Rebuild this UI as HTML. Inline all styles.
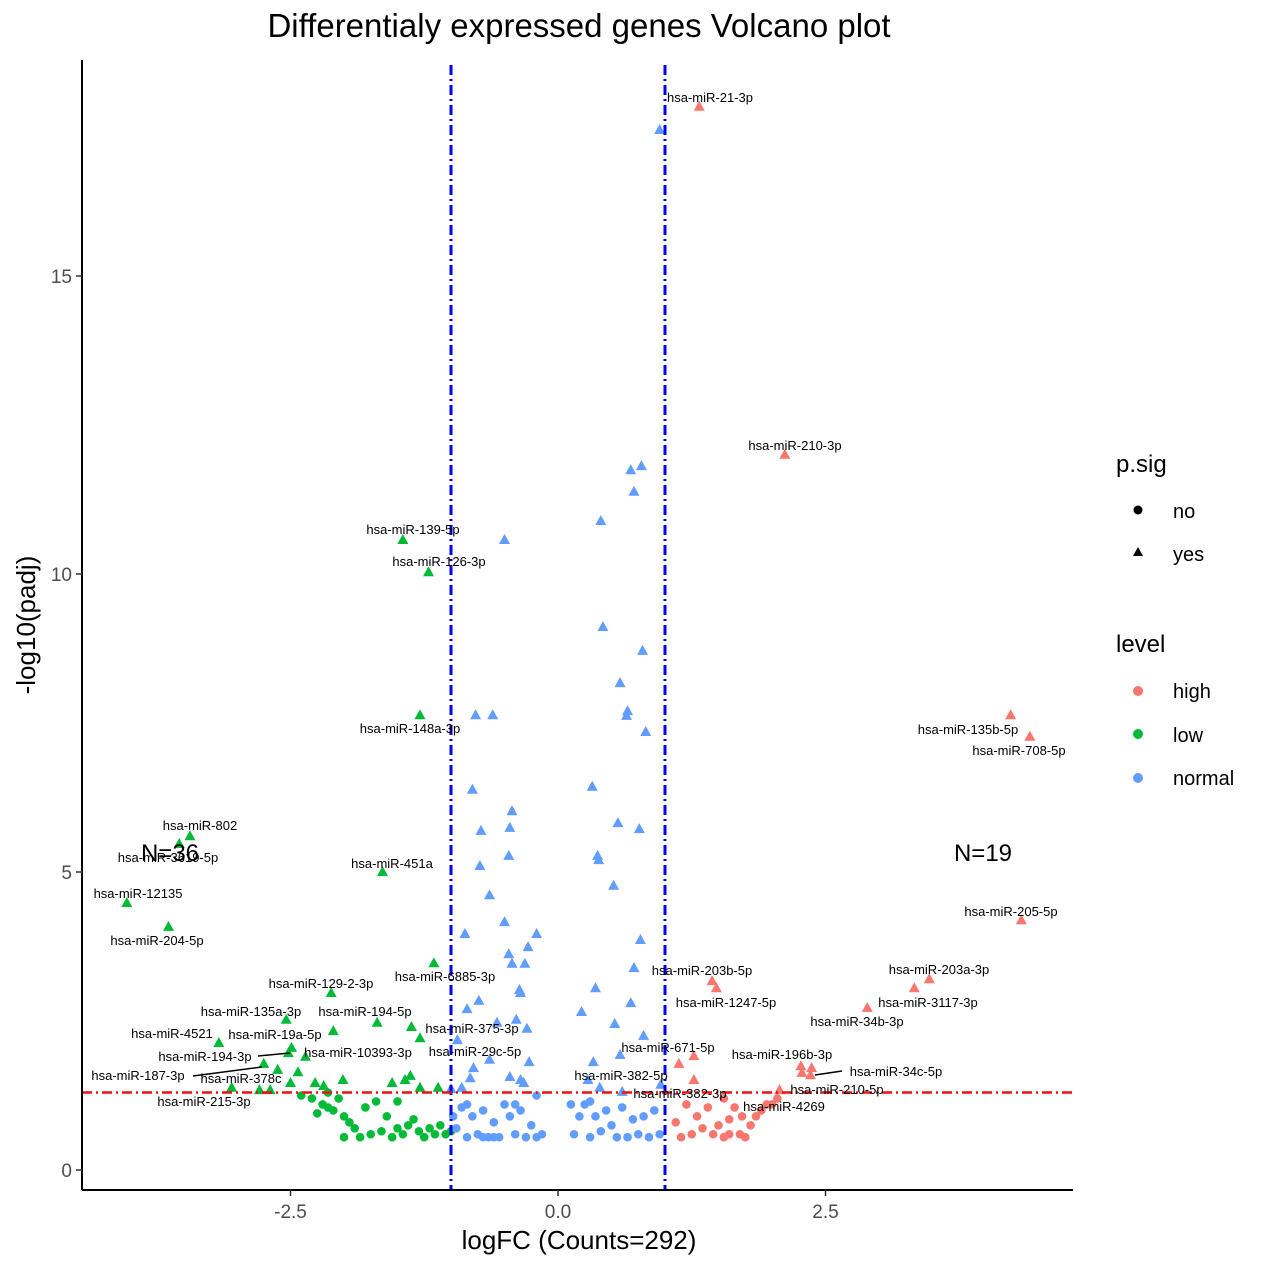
<!DOCTYPE html>
<html><head><meta charset="utf-8"><style>
body{margin:0;background:#fff;}
svg text{font-family:"Liberation Sans",Arial,sans-serif;}
</style></head><body>
<svg id="chart" width="1269" height="1269" viewBox="0 0 1269 1269" xmlns="http://www.w3.org/2000/svg">
<rect width="1269" height="1269" fill="#fff"/>
<text x="579" y="37" font-size="33" text-anchor="middle" fill="#000">Differentialy expressed genes Volcano plot</text>
<g id="marks"></g>
<g id="axes"></g>
<g id="labels" font-size="13" fill="#000">
<text x="710" y="102" text-anchor="middle">hsa-miR-21-3p</text>
<text x="795" y="450" text-anchor="middle">hsa-miR-210-3p</text>
<text x="413" y="534" text-anchor="middle">hsa-miR-139-5p</text>
<text x="439" y="566" text-anchor="middle">hsa-miR-126-3p</text>
<text x="410" y="733" text-anchor="middle">hsa-miR-148a-3p</text>
<text x="968" y="734" text-anchor="middle">hsa-miR-135b-5p</text>
<text x="1019" y="755" text-anchor="middle">hsa-miR-708-5p</text>
<text x="200" y="830" text-anchor="middle">hsa-miR-802</text>
<text x="168" y="862" text-anchor="middle">hsa-miR-3619-5p</text>
<text x="392" y="868" text-anchor="middle">hsa-miR-451a</text>
<text x="138" y="898" text-anchor="middle">hsa-miR-12135</text>
<text x="1011" y="916" text-anchor="middle">hsa-miR-205-5p</text>
<text x="157" y="945" text-anchor="middle">hsa-miR-204-5p</text>
<text x="939" y="974" text-anchor="middle">hsa-miR-203a-3p</text>
<text x="702" y="975" text-anchor="middle">hsa-miR-203b-5p</text>
<text x="445" y="981" text-anchor="middle">hsa-miR-6885-3p</text>
<text x="321" y="988" text-anchor="middle">hsa-miR-129-2-3p</text>
<text x="928" y="1007" text-anchor="middle">hsa-miR-3117-3p</text>
<text x="726" y="1007" text-anchor="middle">hsa-miR-1247-5p</text>
<text x="251" y="1016" text-anchor="middle">hsa-miR-135a-3p</text>
<text x="365" y="1016" text-anchor="middle">hsa-miR-194-5p</text>
<text x="857" y="1026" text-anchor="middle">hsa-miR-34b-3p</text>
<text x="472" y="1033" text-anchor="middle">hsa-miR-375-3p</text>
<text x="172" y="1038" text-anchor="middle">hsa-miR-4521</text>
<text x="275" y="1039" text-anchor="middle">hsa-miR-19a-5p</text>
<text x="668" y="1052" text-anchor="middle">hsa-miR-671-5p</text>
<text x="358" y="1057" text-anchor="middle">hsa-miR-10393-3p</text>
<text x="475" y="1056" text-anchor="middle">hsa-miR-29c-5p</text>
<text x="205" y="1061" text-anchor="middle">hsa-miR-194-3p</text>
<text x="782" y="1059" text-anchor="middle">hsa-miR-196b-3p</text>
<text x="896" y="1076" text-anchor="middle">hsa-miR-34c-5p</text>
<text x="138" y="1080" text-anchor="middle">hsa-miR-187-3p</text>
<text x="621" y="1080" text-anchor="middle">hsa-miR-382-5p</text>
<text x="241" y="1083" text-anchor="middle">hsa-miR-378c</text>
<text x="837" y="1094" text-anchor="middle">hsa-miR-210-5p</text>
<text x="680" y="1098" text-anchor="middle">hsa-miR-382-3p</text>
<text x="204" y="1106" text-anchor="middle">hsa-miR-215-3p</text>
<text x="784" y="1111" text-anchor="middle">hsa-miR-4269</text>
<line x1="193" y1="1076" x2="262" y2="1067" stroke="#000" stroke-width="1.5"/>
<line x1="258" y1="1056" x2="290" y2="1053" stroke="#000" stroke-width="1.5"/>
<line x1="815" y1="1075" x2="842" y2="1071" stroke="#000" stroke-width="1.5"/>
</g>
<text x="170" y="861" font-size="24" text-anchor="middle">N=36</text>
<text x="983" y="861" font-size="24" text-anchor="middle">N=19</text>
<g font-size="20" fill="#000">
<text x="1116" y="472" font-size="24">p.sig</text>
<circle cx="1138" cy="510" r="4.5" fill="#000"/><text x="1173" y="518">no</text>
<polygon points="1138,547 1143,556 1133,556" fill="#000"/><text x="1173" y="561">yes</text>
<text x="1116" y="652" font-size="24">level</text>
<circle cx="1138" cy="691" r="5" fill="#F8766D"/><text x="1173" y="698">high</text>
<circle cx="1138" cy="734" r="5" fill="#00BA38"/><text x="1173" y="742">low</text>
<circle cx="1138" cy="778" r="5" fill="#619CFF"/><text x="1173" y="785">normal</text>
</g>
<text x="579" y="1249" font-size="26" text-anchor="middle">logFC (Counts=292)</text>
<text transform="translate(35,625) rotate(-90)" font-size="26" text-anchor="middle">-log10(padj)</text>
</svg>
<script>
const xTicks=[-2.5,0,2.5];
const xTickLabels=["-2.5","0.0","2.5"];
const yTicks=[0,5,10,15];
const yTickLabels=["0","5","10","15"];
const vLines=[-1,1];
const hLine=[1.3];
const highTriX=[1.32,2.12,4.23,4.41,4.33,3.47,3.33,2.89,1.44,1.48,1.27,1.13,2.27,2.37,2.28,2.36,1.27,2.07];
const highTriY=[17.84,12.0,7.63,7.27,4.19,3.2,3.05,2.72,3.17,3.05,1.91,1.78,1.74,1.71,1.63,1.59,1.51,1.34];
const lowTriX=[-1.45,-1.21,-1.29,-1.64,-3.44,-3.54,-4.03,-3.64,-1.16,-2.12,-2.54,-1.69,-1.37,-2.1,-1.29,-3.17,-2.49,-2.52,-2.36,-2.75,-2.62,-2.43,-1.38,-1.43,-2.01,-2.27,-2.19,-2.5,-1.55,-1.12,-1.29,-3.05,-2.79,-2.69];
const lowTriY=[10.57,10.03,7.63,5.0,5.6,5.47,4.48,4.08,3.47,2.97,2.52,2.47,2.4,2.33,2.21,2.13,2.05,1.96,1.9,1.78,1.68,1.64,1.58,1.51,1.51,1.46,1.41,1.46,1.46,1.38,1.38,1.38,1.34,1.34];
const normTriX=[0.95,0.68,0.78,0.71,0.4,-0.5,0.42,0.79,0.58,0.65,0.64,-0.77,-0.61,0.82,-0.8,0.32,-0.43,0.56,-0.72,-0.45,0.76,-0.46,0.37,0.38,-0.73,0.52,-0.64,-0.5,-0.87,-0.2,0.77,-0.28,-0.46,-0.43,-0.31,0.71,0.35,-0.36,-0.35,-0.74,0.68,-0.85,0.22,-0.57,0.53,-0.39,-0.29,0.8,-0.94,-0.27,-0.64,0.58,-0.79,0.33,-0.45,-0.35,-0.32,-0.82,-0.9,-1.0,0.28,0.39,0.6,0.96];
const normTriY=[17.45,11.74,11.81,11.38,10.89,10.57,9.11,8.71,8.17,7.7,7.62,7.63,7.63,7.35,6.38,6.43,6.02,5.82,5.69,5.74,5.72,5.27,5.27,5.2,5.1,4.77,4.61,4.16,3.96,3.96,3.86,3.74,3.62,3.46,3.46,3.39,3.05,3.02,2.97,2.84,2.8,2.7,2.65,2.47,2.45,2.52,2.37,2.25,2.18,1.81,1.85,1.93,1.71,1.81,1.56,1.51,1.46,1.54,1.38,1.36,1.51,1.38,1.31,1.43];
const lowDotX=[-2.4,-2.3,-2.2,-2.15,-2.1,-2.25,-2.0,-1.95,-1.9,-1.85,-1.75,-1.65,-1.6,-1.55,-1.5,-1.45,-1.4,-1.35,-1.3,-1.25,-1.2,-1.15,-1.1,-1.05,-1.0,-2.0,-1.8,-1.7,-2.05,-1.5,-2.15];
const lowDotY=[1.25,1.2,1.1,1.05,1.0,0.95,0.9,0.8,0.7,0.55,0.6,0.65,0.9,0.55,0.7,0.6,0.75,0.85,0.65,0.55,0.7,0.6,0.75,0.6,0.65,0.55,1.05,1.15,1.2,1.15,1.3];
const normDotX=[-0.98,-0.95,-0.9,-0.85,-0.8,-0.75,-0.7,-0.65,-0.6,-0.55,-0.5,-0.45,-0.4,-0.35,-0.3,-0.25,-0.2,-0.15,-0.2,-0.4,-0.6,-0.85,-0.7,0.12,0.15,0.2,0.25,0.3,0.35,0.4,0.45,0.5,0.55,0.6,0.65,0.7,0.75,0.8,0.85,0.9,0.95,0.3];
const normDotY=[0.9,0.7,1.05,0.55,0.9,0.6,1.0,0.55,0.8,0.55,1.1,0.9,0.6,1.0,0.55,0.75,0.55,0.6,1.25,1.1,0.55,1.1,0.55,1.1,0.6,0.9,1.1,0.55,0.9,0.65,1.0,0.75,0.55,1.05,0.55,0.85,0.6,0.9,0.55,1.0,0.6,1.15];
const highDotX=[1.1,1.15,1.2,1.3,1.35,1.4,1.45,1.5,1.55,1.6,1.65,1.7,1.75,1.8,1.85,1.9,1.95,2.0,1.25,1.6,1.55,2.05,1.72];
const highDotY=[0.8,0.55,1.1,0.9,0.7,1.05,0.6,0.75,0.55,0.85,1.05,0.6,0.55,0.75,0.9,1.0,1.1,1.1,0.6,0.6,1.2,1.2,0.9];

const X0=82,X1=1073,Y0=60,Y1=1190;
function sx(v){return 558+107*v;}
function sy(v){return 1170-59.6*v;}
const NS="http://www.w3.org/2000/svg";
const marks=document.getElementById('marks'), axes=document.getElementById('axes');
function mk(tag,attrs,parent){const e=document.createElementNS(NS,tag);for(const k in attrs)e.setAttribute(k,attrs[k]);parent.appendChild(e);return e;}
function dots(xs,ys,col,name){for(let i=0;i<xs.length;i++){
 const c=mk('circle',{cx:sx(xs[i]),cy:sy(ys[i]),r:4.3,fill:col},marks);
 
 }}
function tris(xs,ys,col,name){for(let i=0;i<xs.length;i++){
 const x=sx(xs[i]),y=sy(ys[i]);
 const p=mk('polygon',{points:`${x},${y-6} ${x+5.5},${y+4} ${x-5.5},${y+4}`,fill:col},marks);
 
 }}
dots(lowDotX,lowDotY,'#00BA38','low-point');
dots(normDotX,normDotY,'#619CFF','normal-point');
dots(highDotX,highDotY,'#F8766D','high-point');
tris(lowTriX,lowTriY,'#00BA38','low-sig-point');
tris(normTriX,normTriY,'#619CFF','normal-sig-point');
tris(highTriX,highTriY,'#F8766D','high-sig-point');
vLines.forEach(v=>{const l=mk('line',{x1:sx(v),x2:sx(v),y1:Y0+5,y2:Y1,stroke:'#0000EE','stroke-width':3,'stroke-dasharray':'10,4,2,4'},axes);
 
 });
hLine.forEach(v=>{const l=mk('line',{x1:X0,x2:X1,y1:sy(v),y2:sy(v),stroke:'#EE1111','stroke-width':2.5,'stroke-dasharray':'10,4,2,4'},axes);
 
 });
const xa=mk('line',{x1:X0,x2:X1,y1:Y1,y2:Y1,stroke:'#000','stroke-width':2},axes);


const ya=mk('line',{x1:X0,x2:X0,y1:Y0,y2:Y1,stroke:'#000','stroke-width':2},axes);


xTicks.forEach((v,i)=>{mk('line',{x1:sx(v),x2:sx(v),y1:Y1,y2:Y1+6,stroke:'#333','stroke-width':1.5},axes);
 const t=mk('text',{x:sx(v),y:Y1+28,'font-size':19,'text-anchor':'middle',fill:'#4d4d4d'},axes);t.textContent=xTickLabels[i];
 
 });
yTicks.forEach((v,i)=>{mk('line',{x1:X0-6,x2:X0,y1:sy(v),y2:sy(v),stroke:'#333','stroke-width':1.5},axes);
 const t=mk('text',{x:X0-10,y:sy(v)+7,'font-size':19,'text-anchor':'end',fill:'#4d4d4d'},axes);t.textContent=yTickLabels[i];
 
 });
</script>
</body></html>
